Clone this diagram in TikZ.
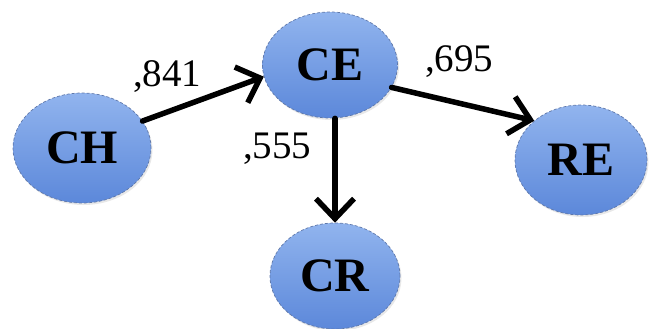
\documentclass[tikz,border=0pt]{standalone}
\usepackage{fontspec}
\setmainfont{Liberation Serif}
\usetikzlibrary{arrows.meta,shapes.geometric,shadows}
\definecolor{nodetop}{RGB}{145,180,238}
\definecolor{nodebot}{RGB}{92,136,218}
\definecolor{nodeline}{RGB}{95,120,170}
\tikzset{
  var/.style={ellipse, inner sep=0pt, draw=nodeline, densely dashed, line width=0.7pt,
    top color=nodetop, bottom color=nodebot,
    drop shadow={opacity=0.18, shadow xshift=1.5pt, shadow yshift=-2pt},
    font=\fontsize{48}{48}\selectfont\bfseries, text=black},
  path/.style={line width=5.5pt, black, line cap=round,
    -{Straight Barb[length=20pt,width=38pt,line width=5.5pt]}},
  coef/.style={inner sep=0pt, anchor=base west, font=\fontsize{39}{39}\selectfont, text=black}
}
\begin{document}
\begin{tikzpicture}[x=1pt,y=-1pt]
\useasboundingbox (0,0) rectangle (649,329);
\node[var, minimum width=138pt, minimum height=110pt] (CH) at (82,148) {CH};
\node[var, minimum width=135pt, minimum height=106pt] (CE) at (330,65) {CE};
\node[var, minimum width=132pt, minimum height=110pt] (RE) at (581,160) {RE};
\node[var, minimum width=130pt, minimum height=106pt] (CR) at (335,276) {CR};
\draw[path] (CH.24) -- (CE.190);
\draw[path] (CE.-20) -- (RE.140);
\draw[path] (CE.south -| CR.north) -- (CR.north);
\node[coef] (l1) at (133,87) {,841};
\node[coef] (l2) at (425,72) {,695};
\node[coef] (l3) at (243,158) {,555};
\end{tikzpicture}
\end{document}
